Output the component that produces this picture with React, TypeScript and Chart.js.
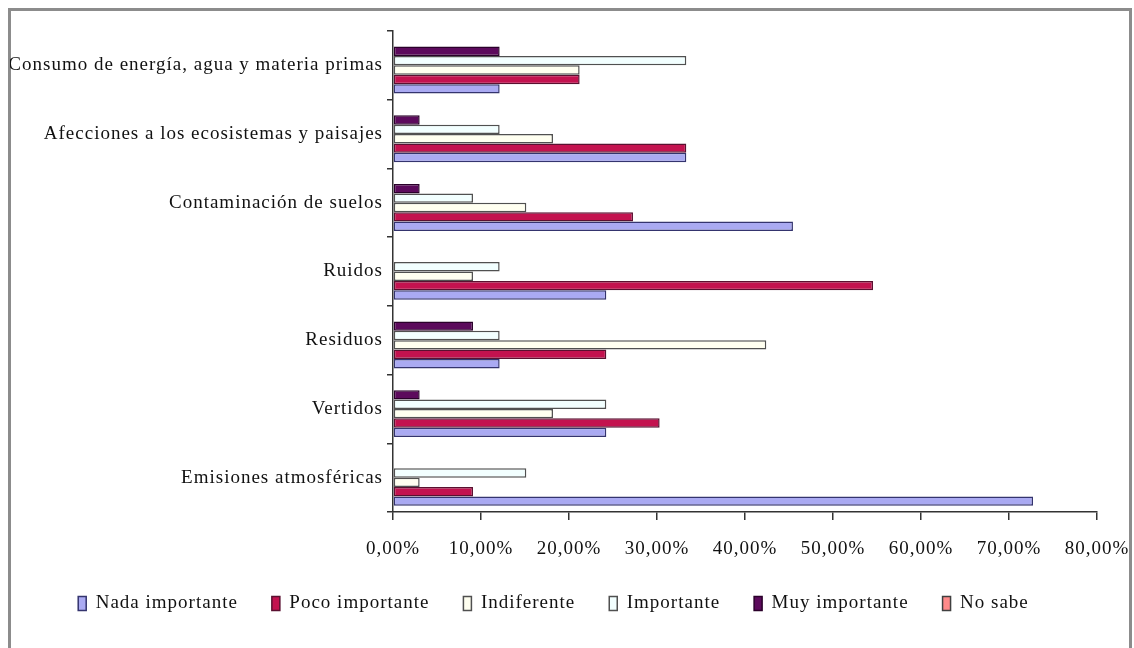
import React, { useEffect, useRef } from "react";
import { Chart, registerables } from "chart.js";

Chart.register(...registerables);

// Categories, listed top to bottom
const categories = [
  "Consumo de energía, agua y materia primas",
  "Afecciones a los ecosistemas y paisajes",
  "Contaminación de suelos",
  "Ruidos",
  "Residuos",
  "Vertidos",
  "Emisiones atmosféricas",
];

// Share of answers per category (%)
const nadaImportante = [12.12, 33.33, 45.45, 24.24, 12.12, 24.24, 72.73];
const pocoImportante = [21.21, 33.33, 27.27, 54.55, 24.24, 30.3, 9.09];
const indiferente = [21.21, 18.18, 15.15, 9.09, 42.42, 18.18, 3.03];
const importante = [33.33, 12.12, 9.09, 12.12, 12.12, 24.24, 15.15];
const muyImportante = [12.12, 3.03, 3.03, 0, 9.09, 3.03, 0];
const noSabe = [0, 0, 0, 0, 0, 0, 0];

const xTicks = [0, 10, 20, 30, 40, 50, 60, 70, 80];

const FONT = "'Liberation Serif', 'Times New Roman', serif";
const SPACING = "1px";

const spacingPlugin = {
  id: "textSpacing",
  beforeUpdate(chart: any) {
    chart.ctx.letterSpacing = SPACING;
  },
  beforeDraw(chart: any) {
    chart.ctx.letterSpacing = SPACING;
  },
};

const fmt = (v: number) => v.toFixed(2).replace(".", ",") + "%";

export default function App() {
  const ref = useRef<HTMLCanvasElement>(null);

  useEffect(() => {
    if (!ref.current) return;
    // Series in bottom-to-top order inside each group; the legend is reversed
    const series = [
      { label: "No sabe", data: noSabe, bg: "#FF8A8A", bd: "#404040" },
      { label: "Muy importante", data: muyImportante, bg: "#5C0A5C", bd: "#2A002A" },
      { label: "Importante", data: importante, bg: "#F2FFFF", bd: "#505050" },
      { label: "Indiferente", data: indiferente, bg: "#FFFFF0", bd: "#505050" },
      { label: "Poco importante", data: pocoImportante, bg: "#C3124F", bd: "#5A1030" },
      { label: "Nada importante", data: nadaImportante, bg: "#AAAAF2", bd: "#34346E" },
    ];
    const chart = new Chart(ref.current, {
      type: "bar",
      data: {
        labels: categories,
        datasets: series.map((s) => ({
          label: s.label,
          data: s.data,
          backgroundColor: s.bg,
          borderColor: s.bd,
          borderWidth: 1.5,
          borderSkipped: false,
          categoryPercentage: 0.82,
          barPercentage: 1.0,
        })),
      },
      plugins: [spacingPlugin],
      options: {
        indexAxis: "y",
        animation: false,
        responsive: false,
        maintainAspectRatio: false,
        layout: { padding: { top: 31, left: 10, right: 37, bottom: 25 } },
        plugins: {
          tooltip: { enabled: false },
          legend: {
            position: "bottom",
            reverse: true,
            labels: {
              font: { family: FONT, size: 19 },
              color: "#111",
              boxWidth: 8,
              boxHeight: 14,
              padding: 34,
            },
          },
        },
        scales: {
          x: {
            min: 0,
            max: 80,
            afterBuildTicks: (scale: any) => {
              scale.ticks = xTicks.map((v) => ({ value: v }));
            },
            afterFit: (scale: any) => {
              scale.height = 48;
              scale.paddingLeft = 0;
              scale.paddingRight = 0;
            },
            ticks: {
              callback: (v: any) => fmt(Number(v)),
              font: { family: FONT, size: 19 },
              color: "#111",
              padding: 18,
              maxRotation: 0,
              autoSkip: false,
            },
            grid: {
              display: true,
              drawOnChartArea: false,
              drawTicks: true,
              tickLength: 8,
              color: "#333",
              lineWidth: 1.5,
            },
            border: { display: true, color: "#333", width: 1.5 },
          },
          y: {
            afterFit: (scale: any) => {
              scale.width = 383;
            },
            ticks: {
              font: { family: FONT, size: 19 },
              color: "#111",
              padding: 4,
              autoSkip: false,
            },
            grid: {
              display: true,
              offset: true,
              drawOnChartArea: false,
              drawTicks: true,
              tickLength: 6,
              color: "#333",
              lineWidth: 1.5,
            },
            border: { display: true, color: "#333", width: 1.5 },
          },
        },
      },
    });
    return () => chart.destroy();
  }, []);

  return (
    <div
      style={{
        position: "fixed",
        left: 0,
        top: 0,
        width: 1134,
        height: 648,
        overflow: "hidden",
        background: "#fff",
      }}
    >
      <div
        style={{
          position: "absolute",
          left: 8,
          top: 8,
          width: 1124,
          height: 700,
          border: "3px solid #8c8c8c",
          boxSizing: "border-box",
        }}
      />
      <canvas
        ref={ref}
        width={1134}
        height={648}
        style={{ position: "absolute", left: 0, top: 0, width: 1134, height: 648 }}
      />
    </div>
  );
}
